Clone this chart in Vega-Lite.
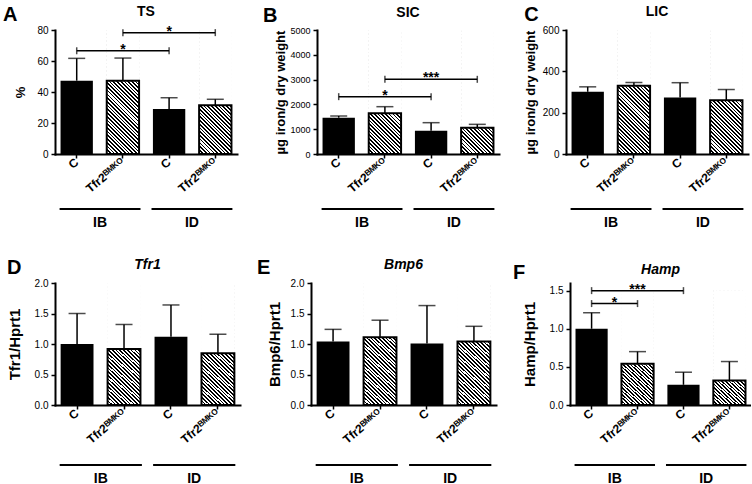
{
"$schema":"https://vega.github.io/schema/vega-lite/v6.json",
"padding":{"left":2,"top":4,"right":0,"bottom":0},
"spacing":29,
"datasets":{
"bars":[
{"panel":"A","bar":"IB|C","genotype":"C","mean":47.3,"upper":61.7},
{"panel":"A","bar":"IB|Tfr2BMKO","genotype":"Tfr2BMKO","mean":47.3,"upper":61.9},
{"panel":"A","bar":"ID|C","genotype":"C","mean":29,"upper":36.3},
{"panel":"A","bar":"ID|Tfr2BMKO","genotype":"Tfr2BMKO","mean":31.4,"upper":35.3},
{"panel":"B","bar":"IB|C","genotype":"C","mean":1464,"upper":1532},
{"panel":"B","bar":"IB|Tfr2BMKO","genotype":"Tfr2BMKO","mean":1640,"upper":1908},
{"panel":"B","bar":"ID|C","genotype":"C","mean":940,"upper":1263},
{"panel":"B","bar":"ID|Tfr2BMKO","genotype":"Tfr2BMKO","mean":1062,"upper":1196},
{"panel":"C","bar":"IB|C","genotype":"C","mean":301,"upper":325},
{"panel":"C","bar":"IB|Tfr2BMKO","genotype":"Tfr2BMKO","mean":330,"upper":346},
{"panel":"C","bar":"ID|C","genotype":"C","mean":273,"upper":345},
{"panel":"C","bar":"ID|Tfr2BMKO","genotype":"Tfr2BMKO","mean":260,"upper":312},
{"panel":"D","bar":"IB|C","genotype":"C","mean":1.0,"upper":1.5},
{"panel":"D","bar":"IB|Tfr2BMKO","genotype":"Tfr2BMKO","mean":0.92,"upper":1.32},
{"panel":"D","bar":"ID|C","genotype":"C","mean":1.12,"upper":1.64},
{"panel":"D","bar":"ID|Tfr2BMKO","genotype":"Tfr2BMKO","mean":0.85,"upper":1.16},
{"panel":"E","bar":"IB|C","genotype":"C","mean":1.04,"upper":1.24},
{"panel":"E","bar":"IB|Tfr2BMKO","genotype":"Tfr2BMKO","mean":1.11,"upper":1.39},
{"panel":"E","bar":"ID|C","genotype":"C","mean":1.01,"upper":1.63},
{"panel":"E","bar":"ID|Tfr2BMKO","genotype":"Tfr2BMKO","mean":1.04,"upper":1.29},
{"panel":"F","bar":"IB|C","genotype":"C","mean":1.0,"upper":1.21},
{"panel":"F","bar":"IB|Tfr2BMKO","genotype":"Tfr2BMKO","mean":0.54,"upper":0.70},
{"panel":"F","bar":"ID|C","genotype":"C","mean":0.265,"upper":0.43},
{"panel":"F","bar":"ID|Tfr2BMKO","genotype":"Tfr2BMKO","mean":0.32,"upper":0.57}
],
"brackets":[
{"panel":"A","from":"IB|C","to":"ID|C","mid":"IB|Tfr2BMKO","level":66.6,"label":"*","span":2},
{"panel":"A","from":"IB|Tfr2BMKO","to":"ID|Tfr2BMKO","mid":"ID|C","level":78.3,"label":"*","span":2},
{"panel":"B","from":"IB|C","to":"ID|C","mid":"IB|Tfr2BMKO","level":2312,"label":"*","span":2},
{"panel":"B","from":"IB|Tfr2BMKO","to":"ID|Tfr2BMKO","mid":"ID|C","level":3011,"label":"***","span":2},
{"panel":"F","from":"IB|C","to":"ID|C","mid":"IB|Tfr2BMKO","level":1.5,"label":"***","span":2},
{"panel":"F","from":"IB|C","to":"IB|Tfr2BMKO","mid":"IB|C","level":1.33,"label":"*","span":1}
],
"groups":[{"group":"IB"},{"group":"ID"}]
},
"vconcat":[
{"spacing":25,"hconcat":[
{"title":{"text":"A","anchor":"start","frame":"bounds","fontSize":20,"offset":-20,"dx":-12},
 "bounds":"flush","spacing":54,
 "vconcat":[
  {"width":182,"height":124,"title":{"text":"TS"},
   "layer":[
    {"data":{"name":"bars"},"transform":[{"filter":"datum.panel=='A'"}],"layer":[
      {"transform":[{"filter":"datum.genotype=='C'"}],"mark":{"type":"bar","fill":"black"},
       "encoding":{"x":{"field":"bar","type":"nominal","title":null,"scale":{"paddingInner":0.3,"paddingOuter":0.12},"axis":{"labelAngle":-40,"labelAlign":"right","labelBaseline":"middle","labelExpr":"slice(datum.value,3)=='C' ? 'C' : 'Tfr2\u1d2e\u1d39\u1d37\u1d3c'"}},
        "y":{"field":"mean","type":"quantitative","title":"%","scale":{"domain":[0,80]},"axis":{"values":[0,20,40,60,80],"labelOverlap":false,"titlePadding":9}}}},
      {"transform":[{"filter":"datum.genotype!='C'"}],"mark":{"type":"bar","fill":{"gradient":"linear","x1":0,"y1":1,"x2":0.3075,"y2":-0.1805,"stops":[{"offset":0,"color":"#000"},{"offset":0.01071,"color":"#000"},{"offset":0.01071,"color":"#fff"},{"offset":0.02381,"color":"#fff"},{"offset":0.02381,"color":"#000"},{"offset":0.03452,"color":"#000"},{"offset":0.03452,"color":"#fff"},{"offset":0.04762,"color":"#fff"},{"offset":0.04762,"color":"#000"},{"offset":0.05833,"color":"#000"},{"offset":0.05833,"color":"#fff"},{"offset":0.07143,"color":"#fff"},{"offset":0.07143,"color":"#000"},{"offset":0.08214,"color":"#000"},{"offset":0.08214,"color":"#fff"},{"offset":0.09524,"color":"#fff"},{"offset":0.09524,"color":"#000"},{"offset":0.10595,"color":"#000"},{"offset":0.10595,"color":"#fff"},{"offset":0.11905,"color":"#fff"},{"offset":0.11905,"color":"#000"},{"offset":0.12976,"color":"#000"},{"offset":0.12976,"color":"#fff"},{"offset":0.14286,"color":"#fff"},{"offset":0.14286,"color":"#000"},{"offset":0.15357,"color":"#000"},{"offset":0.15357,"color":"#fff"},{"offset":0.16667,"color":"#fff"},{"offset":0.16667,"color":"#000"},{"offset":0.17738,"color":"#000"},{"offset":0.17738,"color":"#fff"},{"offset":0.19048,"color":"#fff"},{"offset":0.19048,"color":"#000"},{"offset":0.20119,"color":"#000"},{"offset":0.20119,"color":"#fff"},{"offset":0.21429,"color":"#fff"},{"offset":0.21429,"color":"#000"},{"offset":0.225,"color":"#000"},{"offset":0.225,"color":"#fff"},{"offset":0.2381,"color":"#fff"},{"offset":0.2381,"color":"#000"},{"offset":0.24881,"color":"#000"},{"offset":0.24881,"color":"#fff"},{"offset":0.2619,"color":"#fff"},{"offset":0.2619,"color":"#000"},{"offset":0.27262,"color":"#000"},{"offset":0.27262,"color":"#fff"},{"offset":0.28571,"color":"#fff"},{"offset":0.28571,"color":"#000"},{"offset":0.29643,"color":"#000"},{"offset":0.29643,"color":"#fff"},{"offset":0.30952,"color":"#fff"},{"offset":0.30952,"color":"#000"},{"offset":0.32024,"color":"#000"},{"offset":0.32024,"color":"#fff"},{"offset":0.33333,"color":"#fff"},{"offset":0.33333,"color":"#000"},{"offset":0.34405,"color":"#000"},{"offset":0.34405,"color":"#fff"},{"offset":0.35714,"color":"#fff"},{"offset":0.35714,"color":"#000"},{"offset":0.36786,"color":"#000"},{"offset":0.36786,"color":"#fff"},{"offset":0.38095,"color":"#fff"},{"offset":0.38095,"color":"#000"},{"offset":0.39167,"color":"#000"},{"offset":0.39167,"color":"#fff"},{"offset":0.40476,"color":"#fff"},{"offset":0.40476,"color":"#000"},{"offset":0.41548,"color":"#000"},{"offset":0.41548,"color":"#fff"},{"offset":0.42857,"color":"#fff"},{"offset":0.42857,"color":"#000"},{"offset":0.43929,"color":"#000"},{"offset":0.43929,"color":"#fff"},{"offset":0.45238,"color":"#fff"},{"offset":0.45238,"color":"#000"},{"offset":0.4631,"color":"#000"},{"offset":0.4631,"color":"#fff"},{"offset":0.47619,"color":"#fff"},{"offset":0.47619,"color":"#000"},{"offset":0.4869,"color":"#000"},{"offset":0.4869,"color":"#fff"},{"offset":0.5,"color":"#fff"},{"offset":0.5,"color":"#000"},{"offset":0.51071,"color":"#000"},{"offset":0.51071,"color":"#fff"},{"offset":0.52381,"color":"#fff"},{"offset":0.52381,"color":"#000"},{"offset":0.53452,"color":"#000"},{"offset":0.53452,"color":"#fff"},{"offset":0.54762,"color":"#fff"},{"offset":0.54762,"color":"#000"},{"offset":0.55833,"color":"#000"},{"offset":0.55833,"color":"#fff"},{"offset":0.57143,"color":"#fff"},{"offset":0.57143,"color":"#000"},{"offset":0.58214,"color":"#000"},{"offset":0.58214,"color":"#fff"},{"offset":0.59524,"color":"#fff"},{"offset":0.59524,"color":"#000"},{"offset":0.60595,"color":"#000"},{"offset":0.60595,"color":"#fff"},{"offset":0.61905,"color":"#fff"},{"offset":0.61905,"color":"#000"},{"offset":0.62976,"color":"#000"},{"offset":0.62976,"color":"#fff"},{"offset":0.64286,"color":"#fff"},{"offset":0.64286,"color":"#000"},{"offset":0.65357,"color":"#000"},{"offset":0.65357,"color":"#fff"},{"offset":0.66667,"color":"#fff"},{"offset":0.66667,"color":"#000"},{"offset":0.67738,"color":"#000"},{"offset":0.67738,"color":"#fff"},{"offset":0.69048,"color":"#fff"},{"offset":0.69048,"color":"#000"},{"offset":0.70119,"color":"#000"},{"offset":0.70119,"color":"#fff"},{"offset":0.71429,"color":"#fff"},{"offset":0.71429,"color":"#000"},{"offset":0.725,"color":"#000"},{"offset":0.725,"color":"#fff"},{"offset":0.7381,"color":"#fff"},{"offset":0.7381,"color":"#000"},{"offset":0.74881,"color":"#000"},{"offset":0.74881,"color":"#fff"},{"offset":0.7619,"color":"#fff"},{"offset":0.7619,"color":"#000"},{"offset":0.77262,"color":"#000"},{"offset":0.77262,"color":"#fff"},{"offset":0.78571,"color":"#fff"},{"offset":0.78571,"color":"#000"},{"offset":0.79643,"color":"#000"},{"offset":0.79643,"color":"#fff"},{"offset":0.80952,"color":"#fff"},{"offset":0.80952,"color":"#000"},{"offset":0.82024,"color":"#000"},{"offset":0.82024,"color":"#fff"},{"offset":0.83333,"color":"#fff"},{"offset":0.83333,"color":"#000"},{"offset":0.84405,"color":"#000"},{"offset":0.84405,"color":"#fff"},{"offset":0.85714,"color":"#fff"},{"offset":0.85714,"color":"#000"},{"offset":0.86786,"color":"#000"},{"offset":0.86786,"color":"#fff"},{"offset":0.88095,"color":"#fff"},{"offset":0.88095,"color":"#000"},{"offset":0.89167,"color":"#000"},{"offset":0.89167,"color":"#fff"},{"offset":0.90476,"color":"#fff"},{"offset":0.90476,"color":"#000"},{"offset":0.91548,"color":"#000"},{"offset":0.91548,"color":"#fff"},{"offset":0.92857,"color":"#fff"},{"offset":0.92857,"color":"#000"},{"offset":0.93929,"color":"#000"},{"offset":0.93929,"color":"#fff"},{"offset":0.95238,"color":"#fff"},{"offset":0.95238,"color":"#000"},{"offset":0.9631,"color":"#000"},{"offset":0.9631,"color":"#fff"},{"offset":0.97619,"color":"#fff"},{"offset":0.97619,"color":"#000"},{"offset":0.9869,"color":"#000"},{"offset":0.9869,"color":"#fff"},{"offset":1,"color":"#fff"}]}},
       "encoding":{"x":{"field":"bar","type":"nominal","title":null},"y":{"datum":80,"type":"quantitative","title":"%","axis":{"values":[0,20,40,60,80],"labelOverlap":false}},"y2":{"datum":0}}},
      {"transform":[{"filter":"datum.genotype!='C'"}],"mark":{"type":"bar","fill":"white","stroke":"white","strokeWidth":1},
       "encoding":{"x":{"field":"bar","type":"nominal","title":null},"y":{"field":"mean","type":"quantitative","title":"%","axis":{"values":[0,20,40,60,80],"labelOverlap":false}},"y2":{"datum":80}}},
      {"transform":[{"filter":"datum.genotype!='C'"}],"mark":{"type":"bar","fill":"transparent","stroke":"black","strokeWidth":2},
       "encoding":{"x":{"field":"bar","type":"nominal","title":null},"y":{"field":"mean","type":"quantitative","title":"%","axis":{"values":[0,20,40,60,80],"labelOverlap":false}}}},
      {"mark":{"type":"rule","color":"black","strokeWidth":1.5},
       "encoding":{"x":{"field":"bar","type":"nominal","title":null},"y":{"field":"mean","type":"quantitative","title":"%","axis":{"values":[0,20,40,60,80],"labelOverlap":false}},"y2":{"field":"upper"}}},
      {"mark":{"type":"tick","orient":"horizontal","size":17,"thickness":1.5,"color":"black"},
       "encoding":{"x":{"field":"bar","type":"nominal","title":null},"y":{"field":"upper","type":"quantitative","title":"%","axis":{"values":[0,20,40,60,80],"labelOverlap":false}}}}
    ]},
    {"data":{"name":"brackets"},"transform":[{"filter":"datum.panel=='A'"}],"layer":[
      {"mark":{"type":"rule","color":"black","strokeWidth":1.5},
       "encoding":{"x":{"field":"from","type":"nominal","title":null},"x2":{"field":"to"},"y":{"field":"level","type":"quantitative","title":"%","axis":{"values":[0,20,40,60,80],"labelOverlap":false}}}},
      {"mark":{"type":"tick","orient":"vertical","size":7,"thickness":1.5,"color":"black"},
       "encoding":{"x":{"field":"from","type":"nominal","title":null},"y":{"field":"level","type":"quantitative","title":"%","axis":{"values":[0,20,40,60,80],"labelOverlap":false}}}},
      {"mark":{"type":"tick","orient":"vertical","size":7,"thickness":1.5,"color":"black"},
       "encoding":{"x":{"field":"to","type":"nominal","title":null},"y":{"field":"level","type":"quantitative","title":"%","axis":{"values":[0,20,40,60,80],"labelOverlap":false}}}},
      {"mark":{"type":"text","fontSize":14,"fontWeight":"bold","baseline":"alphabetic","dy":3},
       "encoding":{"x":{"field":"mid","type":"nominal","title":null},"y":{"field":"level","type":"quantitative","title":"%","axis":{"values":[0,20,40,60,80],"labelOverlap":false}},"text":{"field":"label"}}}
    ]}
   ]},
  {"width":182,"height":2,"data":{"name":"groups"},"mark":{"type":"bar","fill":"black"},
   "encoding":{"x":{"field":"group","type":"nominal","title":null,"scale":{"paddingInner":0.12,"paddingOuter":0.05},"axis":{"labelAngle":0,"labelAlign":"center","labelBaseline":"top","labelFontSize":14,"labelFontWeight":"bold","ticks":false,"domain":false,"labelPadding":5}}}}
 ]},
{"title":{"text":"B","anchor":"start","frame":"bounds","fontSize":20,"offset":-20,"dx":-12},
 "bounds":"flush","spacing":54,
 "vconcat":[
  {"width":182,"height":124,"title":{"text":"SIC"},
   "layer":[
    {"data":{"name":"bars"},"transform":[{"filter":"datum.panel=='B'"}],"layer":[
      {"transform":[{"filter":"datum.genotype=='C'"}],"mark":{"type":"bar","fill":"black"},
       "encoding":{"x":{"field":"bar","type":"nominal","title":null,"scale":{"paddingInner":0.3,"paddingOuter":0.12},"axis":{"labelAngle":-40,"labelAlign":"right","labelBaseline":"middle","labelExpr":"slice(datum.value,3)=='C' ? 'C' : 'Tfr2\u1d2e\u1d39\u1d37\u1d3c'"}},
        "y":{"field":"mean","type":"quantitative","title":"µg iron/g dry weight","scale":{"domain":[0,5000]},"axis":{"values":[0,1000,2000,3000,4000,5000],"format":"d","labelOverlap":false,"labelFontSize":9,"titlePadding":2}}}},
      {"transform":[{"filter":"datum.genotype!='C'"}],"mark":{"type":"bar","fill":{"gradient":"linear","x1":0,"y1":1,"x2":0.3075,"y2":-0.1805,"stops":[{"offset":0,"color":"#000"},{"offset":0.01071,"color":"#000"},{"offset":0.01071,"color":"#fff"},{"offset":0.02381,"color":"#fff"},{"offset":0.02381,"color":"#000"},{"offset":0.03452,"color":"#000"},{"offset":0.03452,"color":"#fff"},{"offset":0.04762,"color":"#fff"},{"offset":0.04762,"color":"#000"},{"offset":0.05833,"color":"#000"},{"offset":0.05833,"color":"#fff"},{"offset":0.07143,"color":"#fff"},{"offset":0.07143,"color":"#000"},{"offset":0.08214,"color":"#000"},{"offset":0.08214,"color":"#fff"},{"offset":0.09524,"color":"#fff"},{"offset":0.09524,"color":"#000"},{"offset":0.10595,"color":"#000"},{"offset":0.10595,"color":"#fff"},{"offset":0.11905,"color":"#fff"},{"offset":0.11905,"color":"#000"},{"offset":0.12976,"color":"#000"},{"offset":0.12976,"color":"#fff"},{"offset":0.14286,"color":"#fff"},{"offset":0.14286,"color":"#000"},{"offset":0.15357,"color":"#000"},{"offset":0.15357,"color":"#fff"},{"offset":0.16667,"color":"#fff"},{"offset":0.16667,"color":"#000"},{"offset":0.17738,"color":"#000"},{"offset":0.17738,"color":"#fff"},{"offset":0.19048,"color":"#fff"},{"offset":0.19048,"color":"#000"},{"offset":0.20119,"color":"#000"},{"offset":0.20119,"color":"#fff"},{"offset":0.21429,"color":"#fff"},{"offset":0.21429,"color":"#000"},{"offset":0.225,"color":"#000"},{"offset":0.225,"color":"#fff"},{"offset":0.2381,"color":"#fff"},{"offset":0.2381,"color":"#000"},{"offset":0.24881,"color":"#000"},{"offset":0.24881,"color":"#fff"},{"offset":0.2619,"color":"#fff"},{"offset":0.2619,"color":"#000"},{"offset":0.27262,"color":"#000"},{"offset":0.27262,"color":"#fff"},{"offset":0.28571,"color":"#fff"},{"offset":0.28571,"color":"#000"},{"offset":0.29643,"color":"#000"},{"offset":0.29643,"color":"#fff"},{"offset":0.30952,"color":"#fff"},{"offset":0.30952,"color":"#000"},{"offset":0.32024,"color":"#000"},{"offset":0.32024,"color":"#fff"},{"offset":0.33333,"color":"#fff"},{"offset":0.33333,"color":"#000"},{"offset":0.34405,"color":"#000"},{"offset":0.34405,"color":"#fff"},{"offset":0.35714,"color":"#fff"},{"offset":0.35714,"color":"#000"},{"offset":0.36786,"color":"#000"},{"offset":0.36786,"color":"#fff"},{"offset":0.38095,"color":"#fff"},{"offset":0.38095,"color":"#000"},{"offset":0.39167,"color":"#000"},{"offset":0.39167,"color":"#fff"},{"offset":0.40476,"color":"#fff"},{"offset":0.40476,"color":"#000"},{"offset":0.41548,"color":"#000"},{"offset":0.41548,"color":"#fff"},{"offset":0.42857,"color":"#fff"},{"offset":0.42857,"color":"#000"},{"offset":0.43929,"color":"#000"},{"offset":0.43929,"color":"#fff"},{"offset":0.45238,"color":"#fff"},{"offset":0.45238,"color":"#000"},{"offset":0.4631,"color":"#000"},{"offset":0.4631,"color":"#fff"},{"offset":0.47619,"color":"#fff"},{"offset":0.47619,"color":"#000"},{"offset":0.4869,"color":"#000"},{"offset":0.4869,"color":"#fff"},{"offset":0.5,"color":"#fff"},{"offset":0.5,"color":"#000"},{"offset":0.51071,"color":"#000"},{"offset":0.51071,"color":"#fff"},{"offset":0.52381,"color":"#fff"},{"offset":0.52381,"color":"#000"},{"offset":0.53452,"color":"#000"},{"offset":0.53452,"color":"#fff"},{"offset":0.54762,"color":"#fff"},{"offset":0.54762,"color":"#000"},{"offset":0.55833,"color":"#000"},{"offset":0.55833,"color":"#fff"},{"offset":0.57143,"color":"#fff"},{"offset":0.57143,"color":"#000"},{"offset":0.58214,"color":"#000"},{"offset":0.58214,"color":"#fff"},{"offset":0.59524,"color":"#fff"},{"offset":0.59524,"color":"#000"},{"offset":0.60595,"color":"#000"},{"offset":0.60595,"color":"#fff"},{"offset":0.61905,"color":"#fff"},{"offset":0.61905,"color":"#000"},{"offset":0.62976,"color":"#000"},{"offset":0.62976,"color":"#fff"},{"offset":0.64286,"color":"#fff"},{"offset":0.64286,"color":"#000"},{"offset":0.65357,"color":"#000"},{"offset":0.65357,"color":"#fff"},{"offset":0.66667,"color":"#fff"},{"offset":0.66667,"color":"#000"},{"offset":0.67738,"color":"#000"},{"offset":0.67738,"color":"#fff"},{"offset":0.69048,"color":"#fff"},{"offset":0.69048,"color":"#000"},{"offset":0.70119,"color":"#000"},{"offset":0.70119,"color":"#fff"},{"offset":0.71429,"color":"#fff"},{"offset":0.71429,"color":"#000"},{"offset":0.725,"color":"#000"},{"offset":0.725,"color":"#fff"},{"offset":0.7381,"color":"#fff"},{"offset":0.7381,"color":"#000"},{"offset":0.74881,"color":"#000"},{"offset":0.74881,"color":"#fff"},{"offset":0.7619,"color":"#fff"},{"offset":0.7619,"color":"#000"},{"offset":0.77262,"color":"#000"},{"offset":0.77262,"color":"#fff"},{"offset":0.78571,"color":"#fff"},{"offset":0.78571,"color":"#000"},{"offset":0.79643,"color":"#000"},{"offset":0.79643,"color":"#fff"},{"offset":0.80952,"color":"#fff"},{"offset":0.80952,"color":"#000"},{"offset":0.82024,"color":"#000"},{"offset":0.82024,"color":"#fff"},{"offset":0.83333,"color":"#fff"},{"offset":0.83333,"color":"#000"},{"offset":0.84405,"color":"#000"},{"offset":0.84405,"color":"#fff"},{"offset":0.85714,"color":"#fff"},{"offset":0.85714,"color":"#000"},{"offset":0.86786,"color":"#000"},{"offset":0.86786,"color":"#fff"},{"offset":0.88095,"color":"#fff"},{"offset":0.88095,"color":"#000"},{"offset":0.89167,"color":"#000"},{"offset":0.89167,"color":"#fff"},{"offset":0.90476,"color":"#fff"},{"offset":0.90476,"color":"#000"},{"offset":0.91548,"color":"#000"},{"offset":0.91548,"color":"#fff"},{"offset":0.92857,"color":"#fff"},{"offset":0.92857,"color":"#000"},{"offset":0.93929,"color":"#000"},{"offset":0.93929,"color":"#fff"},{"offset":0.95238,"color":"#fff"},{"offset":0.95238,"color":"#000"},{"offset":0.9631,"color":"#000"},{"offset":0.9631,"color":"#fff"},{"offset":0.97619,"color":"#fff"},{"offset":0.97619,"color":"#000"},{"offset":0.9869,"color":"#000"},{"offset":0.9869,"color":"#fff"},{"offset":1,"color":"#fff"}]}},
       "encoding":{"x":{"field":"bar","type":"nominal","title":null},"y":{"datum":5000,"type":"quantitative","title":"µg iron/g dry weight","axis":{"values":[0,1000,2000,3000,4000,5000],"format":"d","labelOverlap":false}},"y2":{"datum":0}}},
      {"transform":[{"filter":"datum.genotype!='C'"}],"mark":{"type":"bar","fill":"white","stroke":"white","strokeWidth":1},
       "encoding":{"x":{"field":"bar","type":"nominal","title":null},"y":{"field":"mean","type":"quantitative","title":"µg iron/g dry weight","axis":{"values":[0,1000,2000,3000,4000,5000],"format":"d","labelOverlap":false}},"y2":{"datum":5000}}},
      {"transform":[{"filter":"datum.genotype!='C'"}],"mark":{"type":"bar","fill":"transparent","stroke":"black","strokeWidth":2},
       "encoding":{"x":{"field":"bar","type":"nominal","title":null},"y":{"field":"mean","type":"quantitative","title":"µg iron/g dry weight","axis":{"values":[0,1000,2000,3000,4000,5000],"format":"d","labelOverlap":false}}}},
      {"mark":{"type":"rule","color":"black","strokeWidth":1.5},
       "encoding":{"x":{"field":"bar","type":"nominal","title":null},"y":{"field":"mean","type":"quantitative","title":"µg iron/g dry weight","axis":{"values":[0,1000,2000,3000,4000,5000],"format":"d","labelOverlap":false}},"y2":{"field":"upper"}}},
      {"mark":{"type":"tick","orient":"horizontal","size":17,"thickness":1.5,"color":"black"},
       "encoding":{"x":{"field":"bar","type":"nominal","title":null},"y":{"field":"upper","type":"quantitative","title":"µg iron/g dry weight","axis":{"values":[0,1000,2000,3000,4000,5000],"format":"d","labelOverlap":false}}}}
    ]},
    {"data":{"name":"brackets"},"transform":[{"filter":"datum.panel=='B'"}],"layer":[
      {"mark":{"type":"rule","color":"black","strokeWidth":1.5},
       "encoding":{"x":{"field":"from","type":"nominal","title":null},"x2":{"field":"to"},"y":{"field":"level","type":"quantitative","title":"µg iron/g dry weight","axis":{"values":[0,1000,2000,3000,4000,5000],"format":"d","labelOverlap":false}}}},
      {"mark":{"type":"tick","orient":"vertical","size":7,"thickness":1.5,"color":"black"},
       "encoding":{"x":{"field":"from","type":"nominal","title":null},"y":{"field":"level","type":"quantitative","title":"µg iron/g dry weight","axis":{"values":[0,1000,2000,3000,4000,5000],"format":"d","labelOverlap":false}}}},
      {"mark":{"type":"tick","orient":"vertical","size":7,"thickness":1.5,"color":"black"},
       "encoding":{"x":{"field":"to","type":"nominal","title":null},"y":{"field":"level","type":"quantitative","title":"µg iron/g dry weight","axis":{"values":[0,1000,2000,3000,4000,5000],"format":"d","labelOverlap":false}}}},
      {"mark":{"type":"text","fontSize":14,"fontWeight":"bold","baseline":"alphabetic","dy":3},
       "encoding":{"x":{"field":"mid","type":"nominal","title":null},"y":{"field":"level","type":"quantitative","title":"µg iron/g dry weight","axis":{"values":[0,1000,2000,3000,4000,5000],"format":"d","labelOverlap":false}},"text":{"field":"label"}}}
    ]}
   ]},
  {"width":182,"height":2,"data":{"name":"groups"},"mark":{"type":"bar","fill":"black"},
   "encoding":{"x":{"field":"group","type":"nominal","title":null,"scale":{"paddingInner":0.12,"paddingOuter":0.05},"axis":{"labelAngle":0,"labelAlign":"center","labelBaseline":"top","labelFontSize":14,"labelFontWeight":"bold","ticks":false,"domain":false,"labelPadding":5}}}}
 ]},
{"title":{"text":"C","anchor":"start","frame":"bounds","fontSize":20,"offset":-20,"dx":0},
 "bounds":"flush","spacing":54,
 "vconcat":[
  {"width":182,"height":124,"title":{"text":"LIC"},
   "layer":[
    {"data":{"name":"bars"},"transform":[{"filter":"datum.panel=='C'"}],"layer":[
      {"transform":[{"filter":"datum.genotype=='C'"}],"mark":{"type":"bar","fill":"black"},
       "encoding":{"x":{"field":"bar","type":"nominal","title":null,"scale":{"paddingInner":0.3,"paddingOuter":0.12},"axis":{"labelAngle":-40,"labelAlign":"right","labelBaseline":"middle","labelExpr":"slice(datum.value,3)=='C' ? 'C' : 'Tfr2\u1d2e\u1d39\u1d37\u1d3c'"}},
        "y":{"field":"mean","type":"quantitative","title":"µg iron/g dry weight","scale":{"domain":[0,600]},"axis":{"values":[0,200,400,600],"labelOverlap":false,"titlePadding":5}}}},
      {"transform":[{"filter":"datum.genotype!='C'"}],"mark":{"type":"bar","fill":{"gradient":"linear","x1":0,"y1":1,"x2":0.3075,"y2":-0.1805,"stops":[{"offset":0,"color":"#000"},{"offset":0.01071,"color":"#000"},{"offset":0.01071,"color":"#fff"},{"offset":0.02381,"color":"#fff"},{"offset":0.02381,"color":"#000"},{"offset":0.03452,"color":"#000"},{"offset":0.03452,"color":"#fff"},{"offset":0.04762,"color":"#fff"},{"offset":0.04762,"color":"#000"},{"offset":0.05833,"color":"#000"},{"offset":0.05833,"color":"#fff"},{"offset":0.07143,"color":"#fff"},{"offset":0.07143,"color":"#000"},{"offset":0.08214,"color":"#000"},{"offset":0.08214,"color":"#fff"},{"offset":0.09524,"color":"#fff"},{"offset":0.09524,"color":"#000"},{"offset":0.10595,"color":"#000"},{"offset":0.10595,"color":"#fff"},{"offset":0.11905,"color":"#fff"},{"offset":0.11905,"color":"#000"},{"offset":0.12976,"color":"#000"},{"offset":0.12976,"color":"#fff"},{"offset":0.14286,"color":"#fff"},{"offset":0.14286,"color":"#000"},{"offset":0.15357,"color":"#000"},{"offset":0.15357,"color":"#fff"},{"offset":0.16667,"color":"#fff"},{"offset":0.16667,"color":"#000"},{"offset":0.17738,"color":"#000"},{"offset":0.17738,"color":"#fff"},{"offset":0.19048,"color":"#fff"},{"offset":0.19048,"color":"#000"},{"offset":0.20119,"color":"#000"},{"offset":0.20119,"color":"#fff"},{"offset":0.21429,"color":"#fff"},{"offset":0.21429,"color":"#000"},{"offset":0.225,"color":"#000"},{"offset":0.225,"color":"#fff"},{"offset":0.2381,"color":"#fff"},{"offset":0.2381,"color":"#000"},{"offset":0.24881,"color":"#000"},{"offset":0.24881,"color":"#fff"},{"offset":0.2619,"color":"#fff"},{"offset":0.2619,"color":"#000"},{"offset":0.27262,"color":"#000"},{"offset":0.27262,"color":"#fff"},{"offset":0.28571,"color":"#fff"},{"offset":0.28571,"color":"#000"},{"offset":0.29643,"color":"#000"},{"offset":0.29643,"color":"#fff"},{"offset":0.30952,"color":"#fff"},{"offset":0.30952,"color":"#000"},{"offset":0.32024,"color":"#000"},{"offset":0.32024,"color":"#fff"},{"offset":0.33333,"color":"#fff"},{"offset":0.33333,"color":"#000"},{"offset":0.34405,"color":"#000"},{"offset":0.34405,"color":"#fff"},{"offset":0.35714,"color":"#fff"},{"offset":0.35714,"color":"#000"},{"offset":0.36786,"color":"#000"},{"offset":0.36786,"color":"#fff"},{"offset":0.38095,"color":"#fff"},{"offset":0.38095,"color":"#000"},{"offset":0.39167,"color":"#000"},{"offset":0.39167,"color":"#fff"},{"offset":0.40476,"color":"#fff"},{"offset":0.40476,"color":"#000"},{"offset":0.41548,"color":"#000"},{"offset":0.41548,"color":"#fff"},{"offset":0.42857,"color":"#fff"},{"offset":0.42857,"color":"#000"},{"offset":0.43929,"color":"#000"},{"offset":0.43929,"color":"#fff"},{"offset":0.45238,"color":"#fff"},{"offset":0.45238,"color":"#000"},{"offset":0.4631,"color":"#000"},{"offset":0.4631,"color":"#fff"},{"offset":0.47619,"color":"#fff"},{"offset":0.47619,"color":"#000"},{"offset":0.4869,"color":"#000"},{"offset":0.4869,"color":"#fff"},{"offset":0.5,"color":"#fff"},{"offset":0.5,"color":"#000"},{"offset":0.51071,"color":"#000"},{"offset":0.51071,"color":"#fff"},{"offset":0.52381,"color":"#fff"},{"offset":0.52381,"color":"#000"},{"offset":0.53452,"color":"#000"},{"offset":0.53452,"color":"#fff"},{"offset":0.54762,"color":"#fff"},{"offset":0.54762,"color":"#000"},{"offset":0.55833,"color":"#000"},{"offset":0.55833,"color":"#fff"},{"offset":0.57143,"color":"#fff"},{"offset":0.57143,"color":"#000"},{"offset":0.58214,"color":"#000"},{"offset":0.58214,"color":"#fff"},{"offset":0.59524,"color":"#fff"},{"offset":0.59524,"color":"#000"},{"offset":0.60595,"color":"#000"},{"offset":0.60595,"color":"#fff"},{"offset":0.61905,"color":"#fff"},{"offset":0.61905,"color":"#000"},{"offset":0.62976,"color":"#000"},{"offset":0.62976,"color":"#fff"},{"offset":0.64286,"color":"#fff"},{"offset":0.64286,"color":"#000"},{"offset":0.65357,"color":"#000"},{"offset":0.65357,"color":"#fff"},{"offset":0.66667,"color":"#fff"},{"offset":0.66667,"color":"#000"},{"offset":0.67738,"color":"#000"},{"offset":0.67738,"color":"#fff"},{"offset":0.69048,"color":"#fff"},{"offset":0.69048,"color":"#000"},{"offset":0.70119,"color":"#000"},{"offset":0.70119,"color":"#fff"},{"offset":0.71429,"color":"#fff"},{"offset":0.71429,"color":"#000"},{"offset":0.725,"color":"#000"},{"offset":0.725,"color":"#fff"},{"offset":0.7381,"color":"#fff"},{"offset":0.7381,"color":"#000"},{"offset":0.74881,"color":"#000"},{"offset":0.74881,"color":"#fff"},{"offset":0.7619,"color":"#fff"},{"offset":0.7619,"color":"#000"},{"offset":0.77262,"color":"#000"},{"offset":0.77262,"color":"#fff"},{"offset":0.78571,"color":"#fff"},{"offset":0.78571,"color":"#000"},{"offset":0.79643,"color":"#000"},{"offset":0.79643,"color":"#fff"},{"offset":0.80952,"color":"#fff"},{"offset":0.80952,"color":"#000"},{"offset":0.82024,"color":"#000"},{"offset":0.82024,"color":"#fff"},{"offset":0.83333,"color":"#fff"},{"offset":0.83333,"color":"#000"},{"offset":0.84405,"color":"#000"},{"offset":0.84405,"color":"#fff"},{"offset":0.85714,"color":"#fff"},{"offset":0.85714,"color":"#000"},{"offset":0.86786,"color":"#000"},{"offset":0.86786,"color":"#fff"},{"offset":0.88095,"color":"#fff"},{"offset":0.88095,"color":"#000"},{"offset":0.89167,"color":"#000"},{"offset":0.89167,"color":"#fff"},{"offset":0.90476,"color":"#fff"},{"offset":0.90476,"color":"#000"},{"offset":0.91548,"color":"#000"},{"offset":0.91548,"color":"#fff"},{"offset":0.92857,"color":"#fff"},{"offset":0.92857,"color":"#000"},{"offset":0.93929,"color":"#000"},{"offset":0.93929,"color":"#fff"},{"offset":0.95238,"color":"#fff"},{"offset":0.95238,"color":"#000"},{"offset":0.9631,"color":"#000"},{"offset":0.9631,"color":"#fff"},{"offset":0.97619,"color":"#fff"},{"offset":0.97619,"color":"#000"},{"offset":0.9869,"color":"#000"},{"offset":0.9869,"color":"#fff"},{"offset":1,"color":"#fff"}]}},
       "encoding":{"x":{"field":"bar","type":"nominal","title":null},"y":{"datum":600,"type":"quantitative","title":"µg iron/g dry weight","axis":{"values":[0,200,400,600],"labelOverlap":false}},"y2":{"datum":0}}},
      {"transform":[{"filter":"datum.genotype!='C'"}],"mark":{"type":"bar","fill":"white","stroke":"white","strokeWidth":1},
       "encoding":{"x":{"field":"bar","type":"nominal","title":null},"y":{"field":"mean","type":"quantitative","title":"µg iron/g dry weight","axis":{"values":[0,200,400,600],"labelOverlap":false}},"y2":{"datum":600}}},
      {"transform":[{"filter":"datum.genotype!='C'"}],"mark":{"type":"bar","fill":"transparent","stroke":"black","strokeWidth":2},
       "encoding":{"x":{"field":"bar","type":"nominal","title":null},"y":{"field":"mean","type":"quantitative","title":"µg iron/g dry weight","axis":{"values":[0,200,400,600],"labelOverlap":false}}}},
      {"mark":{"type":"rule","color":"black","strokeWidth":1.5},
       "encoding":{"x":{"field":"bar","type":"nominal","title":null},"y":{"field":"mean","type":"quantitative","title":"µg iron/g dry weight","axis":{"values":[0,200,400,600],"labelOverlap":false}},"y2":{"field":"upper"}}},
      {"mark":{"type":"tick","orient":"horizontal","size":17,"thickness":1.5,"color":"black"},
       "encoding":{"x":{"field":"bar","type":"nominal","title":null},"y":{"field":"upper","type":"quantitative","title":"µg iron/g dry weight","axis":{"values":[0,200,400,600],"labelOverlap":false}}}}
    ]}
   ]},
  {"width":182,"height":2,"data":{"name":"groups"},"mark":{"type":"bar","fill":"black"},
   "encoding":{"x":{"field":"group","type":"nominal","title":null,"scale":{"paddingInner":0.12,"paddingOuter":0.05},"axis":{"labelAngle":0,"labelAlign":"center","labelBaseline":"top","labelFontSize":14,"labelFontWeight":"bold","ticks":false,"domain":false,"labelPadding":5}}}}
 ]}
]},
{"spacing":17,"hconcat":[
{"title":{"text":"D","anchor":"start","frame":"bounds","fontSize":20,"offset":-20,"dx":0},
 "bounds":"flush","spacing":59,
 "vconcat":[
  {"width":185,"height":122,"title":{"text":"Tfr1","fontStyle":"italic"},
   "layer":[
    {"data":{"name":"bars"},"transform":[{"filter":"datum.panel=='D'"}],"layer":[
      {"transform":[{"filter":"datum.genotype=='C'"}],"mark":{"type":"bar","fill":"black"},
       "encoding":{"x":{"field":"bar","type":"nominal","title":null,"scale":{"paddingInner":0.3,"paddingOuter":0.12},"axis":{"labelAngle":-40,"labelAlign":"right","labelBaseline":"middle","labelExpr":"slice(datum.value,3)=='C' ? 'C' : 'Tfr2\u1d2e\u1d39\u1d37\u1d3c'"}},
        "y":{"field":"mean","type":"quantitative","title":"Tfr1/Hprt1","scale":{"domain":[0,2]},"axis":{"values":[0,0.5,1,1.5,2],"format":".1f","labelOverlap":false,"titlePadding":12,"titleFontSize":15}}}},
      {"transform":[{"filter":"datum.genotype!='C'"}],"mark":{"type":"bar","fill":{"gradient":"linear","x1":0,"y1":1,"x2":0.3075,"y2":-0.1805,"stops":[{"offset":0,"color":"#000"},{"offset":0.01071,"color":"#000"},{"offset":0.01071,"color":"#fff"},{"offset":0.02381,"color":"#fff"},{"offset":0.02381,"color":"#000"},{"offset":0.03452,"color":"#000"},{"offset":0.03452,"color":"#fff"},{"offset":0.04762,"color":"#fff"},{"offset":0.04762,"color":"#000"},{"offset":0.05833,"color":"#000"},{"offset":0.05833,"color":"#fff"},{"offset":0.07143,"color":"#fff"},{"offset":0.07143,"color":"#000"},{"offset":0.08214,"color":"#000"},{"offset":0.08214,"color":"#fff"},{"offset":0.09524,"color":"#fff"},{"offset":0.09524,"color":"#000"},{"offset":0.10595,"color":"#000"},{"offset":0.10595,"color":"#fff"},{"offset":0.11905,"color":"#fff"},{"offset":0.11905,"color":"#000"},{"offset":0.12976,"color":"#000"},{"offset":0.12976,"color":"#fff"},{"offset":0.14286,"color":"#fff"},{"offset":0.14286,"color":"#000"},{"offset":0.15357,"color":"#000"},{"offset":0.15357,"color":"#fff"},{"offset":0.16667,"color":"#fff"},{"offset":0.16667,"color":"#000"},{"offset":0.17738,"color":"#000"},{"offset":0.17738,"color":"#fff"},{"offset":0.19048,"color":"#fff"},{"offset":0.19048,"color":"#000"},{"offset":0.20119,"color":"#000"},{"offset":0.20119,"color":"#fff"},{"offset":0.21429,"color":"#fff"},{"offset":0.21429,"color":"#000"},{"offset":0.225,"color":"#000"},{"offset":0.225,"color":"#fff"},{"offset":0.2381,"color":"#fff"},{"offset":0.2381,"color":"#000"},{"offset":0.24881,"color":"#000"},{"offset":0.24881,"color":"#fff"},{"offset":0.2619,"color":"#fff"},{"offset":0.2619,"color":"#000"},{"offset":0.27262,"color":"#000"},{"offset":0.27262,"color":"#fff"},{"offset":0.28571,"color":"#fff"},{"offset":0.28571,"color":"#000"},{"offset":0.29643,"color":"#000"},{"offset":0.29643,"color":"#fff"},{"offset":0.30952,"color":"#fff"},{"offset":0.30952,"color":"#000"},{"offset":0.32024,"color":"#000"},{"offset":0.32024,"color":"#fff"},{"offset":0.33333,"color":"#fff"},{"offset":0.33333,"color":"#000"},{"offset":0.34405,"color":"#000"},{"offset":0.34405,"color":"#fff"},{"offset":0.35714,"color":"#fff"},{"offset":0.35714,"color":"#000"},{"offset":0.36786,"color":"#000"},{"offset":0.36786,"color":"#fff"},{"offset":0.38095,"color":"#fff"},{"offset":0.38095,"color":"#000"},{"offset":0.39167,"color":"#000"},{"offset":0.39167,"color":"#fff"},{"offset":0.40476,"color":"#fff"},{"offset":0.40476,"color":"#000"},{"offset":0.41548,"color":"#000"},{"offset":0.41548,"color":"#fff"},{"offset":0.42857,"color":"#fff"},{"offset":0.42857,"color":"#000"},{"offset":0.43929,"color":"#000"},{"offset":0.43929,"color":"#fff"},{"offset":0.45238,"color":"#fff"},{"offset":0.45238,"color":"#000"},{"offset":0.4631,"color":"#000"},{"offset":0.4631,"color":"#fff"},{"offset":0.47619,"color":"#fff"},{"offset":0.47619,"color":"#000"},{"offset":0.4869,"color":"#000"},{"offset":0.4869,"color":"#fff"},{"offset":0.5,"color":"#fff"},{"offset":0.5,"color":"#000"},{"offset":0.51071,"color":"#000"},{"offset":0.51071,"color":"#fff"},{"offset":0.52381,"color":"#fff"},{"offset":0.52381,"color":"#000"},{"offset":0.53452,"color":"#000"},{"offset":0.53452,"color":"#fff"},{"offset":0.54762,"color":"#fff"},{"offset":0.54762,"color":"#000"},{"offset":0.55833,"color":"#000"},{"offset":0.55833,"color":"#fff"},{"offset":0.57143,"color":"#fff"},{"offset":0.57143,"color":"#000"},{"offset":0.58214,"color":"#000"},{"offset":0.58214,"color":"#fff"},{"offset":0.59524,"color":"#fff"},{"offset":0.59524,"color":"#000"},{"offset":0.60595,"color":"#000"},{"offset":0.60595,"color":"#fff"},{"offset":0.61905,"color":"#fff"},{"offset":0.61905,"color":"#000"},{"offset":0.62976,"color":"#000"},{"offset":0.62976,"color":"#fff"},{"offset":0.64286,"color":"#fff"},{"offset":0.64286,"color":"#000"},{"offset":0.65357,"color":"#000"},{"offset":0.65357,"color":"#fff"},{"offset":0.66667,"color":"#fff"},{"offset":0.66667,"color":"#000"},{"offset":0.67738,"color":"#000"},{"offset":0.67738,"color":"#fff"},{"offset":0.69048,"color":"#fff"},{"offset":0.69048,"color":"#000"},{"offset":0.70119,"color":"#000"},{"offset":0.70119,"color":"#fff"},{"offset":0.71429,"color":"#fff"},{"offset":0.71429,"color":"#000"},{"offset":0.725,"color":"#000"},{"offset":0.725,"color":"#fff"},{"offset":0.7381,"color":"#fff"},{"offset":0.7381,"color":"#000"},{"offset":0.74881,"color":"#000"},{"offset":0.74881,"color":"#fff"},{"offset":0.7619,"color":"#fff"},{"offset":0.7619,"color":"#000"},{"offset":0.77262,"color":"#000"},{"offset":0.77262,"color":"#fff"},{"offset":0.78571,"color":"#fff"},{"offset":0.78571,"color":"#000"},{"offset":0.79643,"color":"#000"},{"offset":0.79643,"color":"#fff"},{"offset":0.80952,"color":"#fff"},{"offset":0.80952,"color":"#000"},{"offset":0.82024,"color":"#000"},{"offset":0.82024,"color":"#fff"},{"offset":0.83333,"color":"#fff"},{"offset":0.83333,"color":"#000"},{"offset":0.84405,"color":"#000"},{"offset":0.84405,"color":"#fff"},{"offset":0.85714,"color":"#fff"},{"offset":0.85714,"color":"#000"},{"offset":0.86786,"color":"#000"},{"offset":0.86786,"color":"#fff"},{"offset":0.88095,"color":"#fff"},{"offset":0.88095,"color":"#000"},{"offset":0.89167,"color":"#000"},{"offset":0.89167,"color":"#fff"},{"offset":0.90476,"color":"#fff"},{"offset":0.90476,"color":"#000"},{"offset":0.91548,"color":"#000"},{"offset":0.91548,"color":"#fff"},{"offset":0.92857,"color":"#fff"},{"offset":0.92857,"color":"#000"},{"offset":0.93929,"color":"#000"},{"offset":0.93929,"color":"#fff"},{"offset":0.95238,"color":"#fff"},{"offset":0.95238,"color":"#000"},{"offset":0.9631,"color":"#000"},{"offset":0.9631,"color":"#fff"},{"offset":0.97619,"color":"#fff"},{"offset":0.97619,"color":"#000"},{"offset":0.9869,"color":"#000"},{"offset":0.9869,"color":"#fff"},{"offset":1,"color":"#fff"}]}},
       "encoding":{"x":{"field":"bar","type":"nominal","title":null},"y":{"datum":2,"type":"quantitative","title":"Tfr1/Hprt1","axis":{"values":[0,0.5,1,1.5,2],"format":".1f","labelOverlap":false}},"y2":{"datum":0}}},
      {"transform":[{"filter":"datum.genotype!='C'"}],"mark":{"type":"bar","fill":"white","stroke":"white","strokeWidth":1},
       "encoding":{"x":{"field":"bar","type":"nominal","title":null},"y":{"field":"mean","type":"quantitative","title":"Tfr1/Hprt1","axis":{"values":[0,0.5,1,1.5,2],"format":".1f","labelOverlap":false}},"y2":{"datum":2}}},
      {"transform":[{"filter":"datum.genotype!='C'"}],"mark":{"type":"bar","fill":"transparent","stroke":"black","strokeWidth":2},
       "encoding":{"x":{"field":"bar","type":"nominal","title":null},"y":{"field":"mean","type":"quantitative","title":"Tfr1/Hprt1","axis":{"values":[0,0.5,1,1.5,2],"format":".1f","labelOverlap":false}}}},
      {"mark":{"type":"rule","color":"black","strokeWidth":1.5},
       "encoding":{"x":{"field":"bar","type":"nominal","title":null},"y":{"field":"mean","type":"quantitative","title":"Tfr1/Hprt1","axis":{"values":[0,0.5,1,1.5,2],"format":".1f","labelOverlap":false}},"y2":{"field":"upper"}}},
      {"mark":{"type":"tick","orient":"horizontal","size":17,"thickness":1.5,"color":"black"},
       "encoding":{"x":{"field":"bar","type":"nominal","title":null},"y":{"field":"upper","type":"quantitative","title":"Tfr1/Hprt1","axis":{"values":[0,0.5,1,1.5,2],"format":".1f","labelOverlap":false}}}}
    ]}
   ]},
  {"width":185,"height":2,"data":{"name":"groups"},"mark":{"type":"bar","fill":"black"},
   "encoding":{"x":{"field":"group","type":"nominal","title":null,"scale":{"paddingInner":0.12,"paddingOuter":0.05},"axis":{"labelAngle":0,"labelAlign":"center","labelBaseline":"top","labelFontSize":14,"labelFontWeight":"bold","ticks":false,"domain":false,"labelPadding":5}}}}
 ]},
{"title":{"text":"E","anchor":"start","frame":"bounds","fontSize":20,"offset":-20,"dx":-10},
 "bounds":"flush","spacing":59,
 "vconcat":[
  {"width":185,"height":122,"title":{"text":"Bmp6","fontStyle":"italic"},
   "layer":[
    {"data":{"name":"bars"},"transform":[{"filter":"datum.panel=='E'"}],"layer":[
      {"transform":[{"filter":"datum.genotype=='C'"}],"mark":{"type":"bar","fill":"black"},
       "encoding":{"x":{"field":"bar","type":"nominal","title":null,"scale":{"paddingInner":0.3,"paddingOuter":0.12},"axis":{"labelAngle":-40,"labelAlign":"right","labelBaseline":"middle","labelExpr":"slice(datum.value,3)=='C' ? 'C' : 'Tfr2\u1d2e\u1d39\u1d37\u1d3c'"}},
        "y":{"field":"mean","type":"quantitative","title":"Bmp6/Hprt1","scale":{"domain":[0,2]},"axis":{"values":[0,0.5,1,1.5,2],"format":".1f","labelOverlap":false,"titlePadding":8,"titleFontSize":15}}}},
      {"transform":[{"filter":"datum.genotype!='C'"}],"mark":{"type":"bar","fill":{"gradient":"linear","x1":0,"y1":1,"x2":0.3075,"y2":-0.1805,"stops":[{"offset":0,"color":"#000"},{"offset":0.01071,"color":"#000"},{"offset":0.01071,"color":"#fff"},{"offset":0.02381,"color":"#fff"},{"offset":0.02381,"color":"#000"},{"offset":0.03452,"color":"#000"},{"offset":0.03452,"color":"#fff"},{"offset":0.04762,"color":"#fff"},{"offset":0.04762,"color":"#000"},{"offset":0.05833,"color":"#000"},{"offset":0.05833,"color":"#fff"},{"offset":0.07143,"color":"#fff"},{"offset":0.07143,"color":"#000"},{"offset":0.08214,"color":"#000"},{"offset":0.08214,"color":"#fff"},{"offset":0.09524,"color":"#fff"},{"offset":0.09524,"color":"#000"},{"offset":0.10595,"color":"#000"},{"offset":0.10595,"color":"#fff"},{"offset":0.11905,"color":"#fff"},{"offset":0.11905,"color":"#000"},{"offset":0.12976,"color":"#000"},{"offset":0.12976,"color":"#fff"},{"offset":0.14286,"color":"#fff"},{"offset":0.14286,"color":"#000"},{"offset":0.15357,"color":"#000"},{"offset":0.15357,"color":"#fff"},{"offset":0.16667,"color":"#fff"},{"offset":0.16667,"color":"#000"},{"offset":0.17738,"color":"#000"},{"offset":0.17738,"color":"#fff"},{"offset":0.19048,"color":"#fff"},{"offset":0.19048,"color":"#000"},{"offset":0.20119,"color":"#000"},{"offset":0.20119,"color":"#fff"},{"offset":0.21429,"color":"#fff"},{"offset":0.21429,"color":"#000"},{"offset":0.225,"color":"#000"},{"offset":0.225,"color":"#fff"},{"offset":0.2381,"color":"#fff"},{"offset":0.2381,"color":"#000"},{"offset":0.24881,"color":"#000"},{"offset":0.24881,"color":"#fff"},{"offset":0.2619,"color":"#fff"},{"offset":0.2619,"color":"#000"},{"offset":0.27262,"color":"#000"},{"offset":0.27262,"color":"#fff"},{"offset":0.28571,"color":"#fff"},{"offset":0.28571,"color":"#000"},{"offset":0.29643,"color":"#000"},{"offset":0.29643,"color":"#fff"},{"offset":0.30952,"color":"#fff"},{"offset":0.30952,"color":"#000"},{"offset":0.32024,"color":"#000"},{"offset":0.32024,"color":"#fff"},{"offset":0.33333,"color":"#fff"},{"offset":0.33333,"color":"#000"},{"offset":0.34405,"color":"#000"},{"offset":0.34405,"color":"#fff"},{"offset":0.35714,"color":"#fff"},{"offset":0.35714,"color":"#000"},{"offset":0.36786,"color":"#000"},{"offset":0.36786,"color":"#fff"},{"offset":0.38095,"color":"#fff"},{"offset":0.38095,"color":"#000"},{"offset":0.39167,"color":"#000"},{"offset":0.39167,"color":"#fff"},{"offset":0.40476,"color":"#fff"},{"offset":0.40476,"color":"#000"},{"offset":0.41548,"color":"#000"},{"offset":0.41548,"color":"#fff"},{"offset":0.42857,"color":"#fff"},{"offset":0.42857,"color":"#000"},{"offset":0.43929,"color":"#000"},{"offset":0.43929,"color":"#fff"},{"offset":0.45238,"color":"#fff"},{"offset":0.45238,"color":"#000"},{"offset":0.4631,"color":"#000"},{"offset":0.4631,"color":"#fff"},{"offset":0.47619,"color":"#fff"},{"offset":0.47619,"color":"#000"},{"offset":0.4869,"color":"#000"},{"offset":0.4869,"color":"#fff"},{"offset":0.5,"color":"#fff"},{"offset":0.5,"color":"#000"},{"offset":0.51071,"color":"#000"},{"offset":0.51071,"color":"#fff"},{"offset":0.52381,"color":"#fff"},{"offset":0.52381,"color":"#000"},{"offset":0.53452,"color":"#000"},{"offset":0.53452,"color":"#fff"},{"offset":0.54762,"color":"#fff"},{"offset":0.54762,"color":"#000"},{"offset":0.55833,"color":"#000"},{"offset":0.55833,"color":"#fff"},{"offset":0.57143,"color":"#fff"},{"offset":0.57143,"color":"#000"},{"offset":0.58214,"color":"#000"},{"offset":0.58214,"color":"#fff"},{"offset":0.59524,"color":"#fff"},{"offset":0.59524,"color":"#000"},{"offset":0.60595,"color":"#000"},{"offset":0.60595,"color":"#fff"},{"offset":0.61905,"color":"#fff"},{"offset":0.61905,"color":"#000"},{"offset":0.62976,"color":"#000"},{"offset":0.62976,"color":"#fff"},{"offset":0.64286,"color":"#fff"},{"offset":0.64286,"color":"#000"},{"offset":0.65357,"color":"#000"},{"offset":0.65357,"color":"#fff"},{"offset":0.66667,"color":"#fff"},{"offset":0.66667,"color":"#000"},{"offset":0.67738,"color":"#000"},{"offset":0.67738,"color":"#fff"},{"offset":0.69048,"color":"#fff"},{"offset":0.69048,"color":"#000"},{"offset":0.70119,"color":"#000"},{"offset":0.70119,"color":"#fff"},{"offset":0.71429,"color":"#fff"},{"offset":0.71429,"color":"#000"},{"offset":0.725,"color":"#000"},{"offset":0.725,"color":"#fff"},{"offset":0.7381,"color":"#fff"},{"offset":0.7381,"color":"#000"},{"offset":0.74881,"color":"#000"},{"offset":0.74881,"color":"#fff"},{"offset":0.7619,"color":"#fff"},{"offset":0.7619,"color":"#000"},{"offset":0.77262,"color":"#000"},{"offset":0.77262,"color":"#fff"},{"offset":0.78571,"color":"#fff"},{"offset":0.78571,"color":"#000"},{"offset":0.79643,"color":"#000"},{"offset":0.79643,"color":"#fff"},{"offset":0.80952,"color":"#fff"},{"offset":0.80952,"color":"#000"},{"offset":0.82024,"color":"#000"},{"offset":0.82024,"color":"#fff"},{"offset":0.83333,"color":"#fff"},{"offset":0.83333,"color":"#000"},{"offset":0.84405,"color":"#000"},{"offset":0.84405,"color":"#fff"},{"offset":0.85714,"color":"#fff"},{"offset":0.85714,"color":"#000"},{"offset":0.86786,"color":"#000"},{"offset":0.86786,"color":"#fff"},{"offset":0.88095,"color":"#fff"},{"offset":0.88095,"color":"#000"},{"offset":0.89167,"color":"#000"},{"offset":0.89167,"color":"#fff"},{"offset":0.90476,"color":"#fff"},{"offset":0.90476,"color":"#000"},{"offset":0.91548,"color":"#000"},{"offset":0.91548,"color":"#fff"},{"offset":0.92857,"color":"#fff"},{"offset":0.92857,"color":"#000"},{"offset":0.93929,"color":"#000"},{"offset":0.93929,"color":"#fff"},{"offset":0.95238,"color":"#fff"},{"offset":0.95238,"color":"#000"},{"offset":0.9631,"color":"#000"},{"offset":0.9631,"color":"#fff"},{"offset":0.97619,"color":"#fff"},{"offset":0.97619,"color":"#000"},{"offset":0.9869,"color":"#000"},{"offset":0.9869,"color":"#fff"},{"offset":1,"color":"#fff"}]}},
       "encoding":{"x":{"field":"bar","type":"nominal","title":null},"y":{"datum":2,"type":"quantitative","title":"Bmp6/Hprt1","axis":{"values":[0,0.5,1,1.5,2],"format":".1f","labelOverlap":false}},"y2":{"datum":0}}},
      {"transform":[{"filter":"datum.genotype!='C'"}],"mark":{"type":"bar","fill":"white","stroke":"white","strokeWidth":1},
       "encoding":{"x":{"field":"bar","type":"nominal","title":null},"y":{"field":"mean","type":"quantitative","title":"Bmp6/Hprt1","axis":{"values":[0,0.5,1,1.5,2],"format":".1f","labelOverlap":false}},"y2":{"datum":2}}},
      {"transform":[{"filter":"datum.genotype!='C'"}],"mark":{"type":"bar","fill":"transparent","stroke":"black","strokeWidth":2},
       "encoding":{"x":{"field":"bar","type":"nominal","title":null},"y":{"field":"mean","type":"quantitative","title":"Bmp6/Hprt1","axis":{"values":[0,0.5,1,1.5,2],"format":".1f","labelOverlap":false}}}},
      {"mark":{"type":"rule","color":"black","strokeWidth":1.5},
       "encoding":{"x":{"field":"bar","type":"nominal","title":null},"y":{"field":"mean","type":"quantitative","title":"Bmp6/Hprt1","axis":{"values":[0,0.5,1,1.5,2],"format":".1f","labelOverlap":false}},"y2":{"field":"upper"}}},
      {"mark":{"type":"tick","orient":"horizontal","size":17,"thickness":1.5,"color":"black"},
       "encoding":{"x":{"field":"bar","type":"nominal","title":null},"y":{"field":"upper","type":"quantitative","title":"Bmp6/Hprt1","axis":{"values":[0,0.5,1,1.5,2],"format":".1f","labelOverlap":false}}}}
    ]}
   ]},
  {"width":185,"height":2,"data":{"name":"groups"},"mark":{"type":"bar","fill":"black"},
   "encoding":{"x":{"field":"group","type":"nominal","title":null,"scale":{"paddingInner":0.12,"paddingOuter":0.05},"axis":{"labelAngle":0,"labelAlign":"center","labelBaseline":"top","labelFontSize":14,"labelFontWeight":"bold","ticks":false,"domain":false,"labelPadding":5}}}}
 ]},
{"title":{"text":"F","anchor":"start","frame":"bounds","fontSize":20,"offset":-20,"dx":-9},
 "bounds":"flush","spacing":59,
 "vconcat":[
  {"width":181,"height":122,"title":{"text":"Hamp","fontStyle":"italic"},
   "layer":[
    {"data":{"name":"bars"},"transform":[{"filter":"datum.panel=='F'"}],"layer":[
      {"transform":[{"filter":"datum.genotype=='C'"}],"mark":{"type":"bar","fill":"black"},
       "encoding":{"x":{"field":"bar","type":"nominal","title":null,"scale":{"paddingInner":0.3,"paddingOuter":0.12},"axis":{"labelAngle":-40,"labelAlign":"right","labelBaseline":"middle","labelExpr":"slice(datum.value,3)=='C' ? 'C' : 'Tfr2\u1d2e\u1d39\u1d37\u1d3c'"}},
        "y":{"field":"mean","type":"quantitative","title":"Hamp/Hprt1","scale":{"domain":[0,1.5]},"axis":{"values":[0,0.5,1,1.5],"format":".1f","labelOverlap":false,"titlePadding":12,"titleFontSize":15}}}},
      {"transform":[{"filter":"datum.genotype!='C'"}],"mark":{"type":"bar","fill":{"gradient":"linear","x1":0,"y1":1,"x2":0.3075,"y2":-0.1805,"stops":[{"offset":0,"color":"#000"},{"offset":0.01071,"color":"#000"},{"offset":0.01071,"color":"#fff"},{"offset":0.02381,"color":"#fff"},{"offset":0.02381,"color":"#000"},{"offset":0.03452,"color":"#000"},{"offset":0.03452,"color":"#fff"},{"offset":0.04762,"color":"#fff"},{"offset":0.04762,"color":"#000"},{"offset":0.05833,"color":"#000"},{"offset":0.05833,"color":"#fff"},{"offset":0.07143,"color":"#fff"},{"offset":0.07143,"color":"#000"},{"offset":0.08214,"color":"#000"},{"offset":0.08214,"color":"#fff"},{"offset":0.09524,"color":"#fff"},{"offset":0.09524,"color":"#000"},{"offset":0.10595,"color":"#000"},{"offset":0.10595,"color":"#fff"},{"offset":0.11905,"color":"#fff"},{"offset":0.11905,"color":"#000"},{"offset":0.12976,"color":"#000"},{"offset":0.12976,"color":"#fff"},{"offset":0.14286,"color":"#fff"},{"offset":0.14286,"color":"#000"},{"offset":0.15357,"color":"#000"},{"offset":0.15357,"color":"#fff"},{"offset":0.16667,"color":"#fff"},{"offset":0.16667,"color":"#000"},{"offset":0.17738,"color":"#000"},{"offset":0.17738,"color":"#fff"},{"offset":0.19048,"color":"#fff"},{"offset":0.19048,"color":"#000"},{"offset":0.20119,"color":"#000"},{"offset":0.20119,"color":"#fff"},{"offset":0.21429,"color":"#fff"},{"offset":0.21429,"color":"#000"},{"offset":0.225,"color":"#000"},{"offset":0.225,"color":"#fff"},{"offset":0.2381,"color":"#fff"},{"offset":0.2381,"color":"#000"},{"offset":0.24881,"color":"#000"},{"offset":0.24881,"color":"#fff"},{"offset":0.2619,"color":"#fff"},{"offset":0.2619,"color":"#000"},{"offset":0.27262,"color":"#000"},{"offset":0.27262,"color":"#fff"},{"offset":0.28571,"color":"#fff"},{"offset":0.28571,"color":"#000"},{"offset":0.29643,"color":"#000"},{"offset":0.29643,"color":"#fff"},{"offset":0.30952,"color":"#fff"},{"offset":0.30952,"color":"#000"},{"offset":0.32024,"color":"#000"},{"offset":0.32024,"color":"#fff"},{"offset":0.33333,"color":"#fff"},{"offset":0.33333,"color":"#000"},{"offset":0.34405,"color":"#000"},{"offset":0.34405,"color":"#fff"},{"offset":0.35714,"color":"#fff"},{"offset":0.35714,"color":"#000"},{"offset":0.36786,"color":"#000"},{"offset":0.36786,"color":"#fff"},{"offset":0.38095,"color":"#fff"},{"offset":0.38095,"color":"#000"},{"offset":0.39167,"color":"#000"},{"offset":0.39167,"color":"#fff"},{"offset":0.40476,"color":"#fff"},{"offset":0.40476,"color":"#000"},{"offset":0.41548,"color":"#000"},{"offset":0.41548,"color":"#fff"},{"offset":0.42857,"color":"#fff"},{"offset":0.42857,"color":"#000"},{"offset":0.43929,"color":"#000"},{"offset":0.43929,"color":"#fff"},{"offset":0.45238,"color":"#fff"},{"offset":0.45238,"color":"#000"},{"offset":0.4631,"color":"#000"},{"offset":0.4631,"color":"#fff"},{"offset":0.47619,"color":"#fff"},{"offset":0.47619,"color":"#000"},{"offset":0.4869,"color":"#000"},{"offset":0.4869,"color":"#fff"},{"offset":0.5,"color":"#fff"},{"offset":0.5,"color":"#000"},{"offset":0.51071,"color":"#000"},{"offset":0.51071,"color":"#fff"},{"offset":0.52381,"color":"#fff"},{"offset":0.52381,"color":"#000"},{"offset":0.53452,"color":"#000"},{"offset":0.53452,"color":"#fff"},{"offset":0.54762,"color":"#fff"},{"offset":0.54762,"color":"#000"},{"offset":0.55833,"color":"#000"},{"offset":0.55833,"color":"#fff"},{"offset":0.57143,"color":"#fff"},{"offset":0.57143,"color":"#000"},{"offset":0.58214,"color":"#000"},{"offset":0.58214,"color":"#fff"},{"offset":0.59524,"color":"#fff"},{"offset":0.59524,"color":"#000"},{"offset":0.60595,"color":"#000"},{"offset":0.60595,"color":"#fff"},{"offset":0.61905,"color":"#fff"},{"offset":0.61905,"color":"#000"},{"offset":0.62976,"color":"#000"},{"offset":0.62976,"color":"#fff"},{"offset":0.64286,"color":"#fff"},{"offset":0.64286,"color":"#000"},{"offset":0.65357,"color":"#000"},{"offset":0.65357,"color":"#fff"},{"offset":0.66667,"color":"#fff"},{"offset":0.66667,"color":"#000"},{"offset":0.67738,"color":"#000"},{"offset":0.67738,"color":"#fff"},{"offset":0.69048,"color":"#fff"},{"offset":0.69048,"color":"#000"},{"offset":0.70119,"color":"#000"},{"offset":0.70119,"color":"#fff"},{"offset":0.71429,"color":"#fff"},{"offset":0.71429,"color":"#000"},{"offset":0.725,"color":"#000"},{"offset":0.725,"color":"#fff"},{"offset":0.7381,"color":"#fff"},{"offset":0.7381,"color":"#000"},{"offset":0.74881,"color":"#000"},{"offset":0.74881,"color":"#fff"},{"offset":0.7619,"color":"#fff"},{"offset":0.7619,"color":"#000"},{"offset":0.77262,"color":"#000"},{"offset":0.77262,"color":"#fff"},{"offset":0.78571,"color":"#fff"},{"offset":0.78571,"color":"#000"},{"offset":0.79643,"color":"#000"},{"offset":0.79643,"color":"#fff"},{"offset":0.80952,"color":"#fff"},{"offset":0.80952,"color":"#000"},{"offset":0.82024,"color":"#000"},{"offset":0.82024,"color":"#fff"},{"offset":0.83333,"color":"#fff"},{"offset":0.83333,"color":"#000"},{"offset":0.84405,"color":"#000"},{"offset":0.84405,"color":"#fff"},{"offset":0.85714,"color":"#fff"},{"offset":0.85714,"color":"#000"},{"offset":0.86786,"color":"#000"},{"offset":0.86786,"color":"#fff"},{"offset":0.88095,"color":"#fff"},{"offset":0.88095,"color":"#000"},{"offset":0.89167,"color":"#000"},{"offset":0.89167,"color":"#fff"},{"offset":0.90476,"color":"#fff"},{"offset":0.90476,"color":"#000"},{"offset":0.91548,"color":"#000"},{"offset":0.91548,"color":"#fff"},{"offset":0.92857,"color":"#fff"},{"offset":0.92857,"color":"#000"},{"offset":0.93929,"color":"#000"},{"offset":0.93929,"color":"#fff"},{"offset":0.95238,"color":"#fff"},{"offset":0.95238,"color":"#000"},{"offset":0.9631,"color":"#000"},{"offset":0.9631,"color":"#fff"},{"offset":0.97619,"color":"#fff"},{"offset":0.97619,"color":"#000"},{"offset":0.9869,"color":"#000"},{"offset":0.9869,"color":"#fff"},{"offset":1,"color":"#fff"}]}},
       "encoding":{"x":{"field":"bar","type":"nominal","title":null},"y":{"datum":1.5,"type":"quantitative","title":"Hamp/Hprt1","axis":{"values":[0,0.5,1,1.5],"format":".1f","labelOverlap":false}},"y2":{"datum":0}}},
      {"transform":[{"filter":"datum.genotype!='C'"}],"mark":{"type":"bar","fill":"white","stroke":"white","strokeWidth":1},
       "encoding":{"x":{"field":"bar","type":"nominal","title":null},"y":{"field":"mean","type":"quantitative","title":"Hamp/Hprt1","axis":{"values":[0,0.5,1,1.5],"format":".1f","labelOverlap":false}},"y2":{"datum":1.5}}},
      {"transform":[{"filter":"datum.genotype!='C'"}],"mark":{"type":"bar","fill":"transparent","stroke":"black","strokeWidth":2},
       "encoding":{"x":{"field":"bar","type":"nominal","title":null},"y":{"field":"mean","type":"quantitative","title":"Hamp/Hprt1","axis":{"values":[0,0.5,1,1.5],"format":".1f","labelOverlap":false}}}},
      {"mark":{"type":"rule","color":"black","strokeWidth":1.5},
       "encoding":{"x":{"field":"bar","type":"nominal","title":null},"y":{"field":"mean","type":"quantitative","title":"Hamp/Hprt1","axis":{"values":[0,0.5,1,1.5],"format":".1f","labelOverlap":false}},"y2":{"field":"upper"}}},
      {"mark":{"type":"tick","orient":"horizontal","size":17,"thickness":1.5,"color":"black"},
       "encoding":{"x":{"field":"bar","type":"nominal","title":null},"y":{"field":"upper","type":"quantitative","title":"Hamp/Hprt1","axis":{"values":[0,0.5,1,1.5],"format":".1f","labelOverlap":false}}}}
    ]},
    {"data":{"name":"brackets"},"transform":[{"filter":"datum.panel=='F'"}],"layer":[
      {"mark":{"type":"rule","color":"black","strokeWidth":1.5},
       "encoding":{"x":{"field":"from","type":"nominal","title":null},"x2":{"field":"to"},"y":{"field":"level","type":"quantitative","title":"Hamp/Hprt1","axis":{"values":[0,0.5,1,1.5],"format":".1f","labelOverlap":false}}}},
      {"mark":{"type":"tick","orient":"vertical","size":7,"thickness":1.5,"color":"black"},
       "encoding":{"x":{"field":"from","type":"nominal","title":null},"y":{"field":"level","type":"quantitative","title":"Hamp/Hprt1","axis":{"values":[0,0.5,1,1.5],"format":".1f","labelOverlap":false}}}},
      {"mark":{"type":"tick","orient":"vertical","size":7,"thickness":1.5,"color":"black"},
       "encoding":{"x":{"field":"to","type":"nominal","title":null},"y":{"field":"level","type":"quantitative","title":"Hamp/Hprt1","axis":{"values":[0,0.5,1,1.5],"format":".1f","labelOverlap":false}}}},
      {"transform":[{"filter":"datum.span==2"}],"mark":{"type":"text","fontSize":14,"fontWeight":"bold","baseline":"alphabetic","dy":3},
       "encoding":{"x":{"field":"mid","type":"nominal","title":null},"y":{"field":"level","type":"quantitative","title":"Hamp/Hprt1","axis":{"values":[0,0.5,1,1.5],"format":".1f","labelOverlap":false}},"text":{"field":"label"}}},
      {"transform":[{"filter":"datum.span==1"}],"mark":{"type":"text","fontSize":14,"fontWeight":"bold","baseline":"alphabetic","dy":3},
       "encoding":{"x":{"field":"from","type":"nominal","title":null,"bandPosition":1.215},"y":{"field":"level","type":"quantitative","title":"Hamp/Hprt1","axis":{"values":[0,0.5,1,1.5],"format":".1f","labelOverlap":false}},"text":{"field":"label"}}}
    ]}
   ]},
  {"width":181,"height":2,"data":{"name":"groups"},"mark":{"type":"bar","fill":"black"},
   "encoding":{"x":{"field":"group","type":"nominal","title":null,"scale":{"paddingInner":0.12,"paddingOuter":0.05},"axis":{"labelAngle":0,"labelAlign":"center","labelBaseline":"top","labelFontSize":14,"labelFontWeight":"bold","ticks":false,"domain":false,"labelPadding":5}}}}
 ]}
]}
],
"config":{
 "font":"Liberation Sans",
 "view":{"stroke":null},
 "title":{"fontSize":14,"fontWeight":"bold","color":"black","offset":6},
 "axisX":{"labelAngle":-40,"labelAlign":"right","labelBaseline":"middle","labelFontSize":12,"labelFontWeight":"bold","labelColor":"black","tickSize":4,"tickWidth":1.5,"tickColor":"black","domainWidth":2,"domainColor":"black","domainCap":"square","labelPadding":2,"grid":false},
 "axisY":{"labelFontSize":10,"labelColor":"black","labelOverlap":false,"tickSize":4,"tickWidth":1.5,"tickColor":"black","domainWidth":2,"domainColor":"black","domainCap":"square","labelPadding":3,"titleFontSize":13,"titleFontWeight":"bold","titleColor":"black","grid":false}
}
}
